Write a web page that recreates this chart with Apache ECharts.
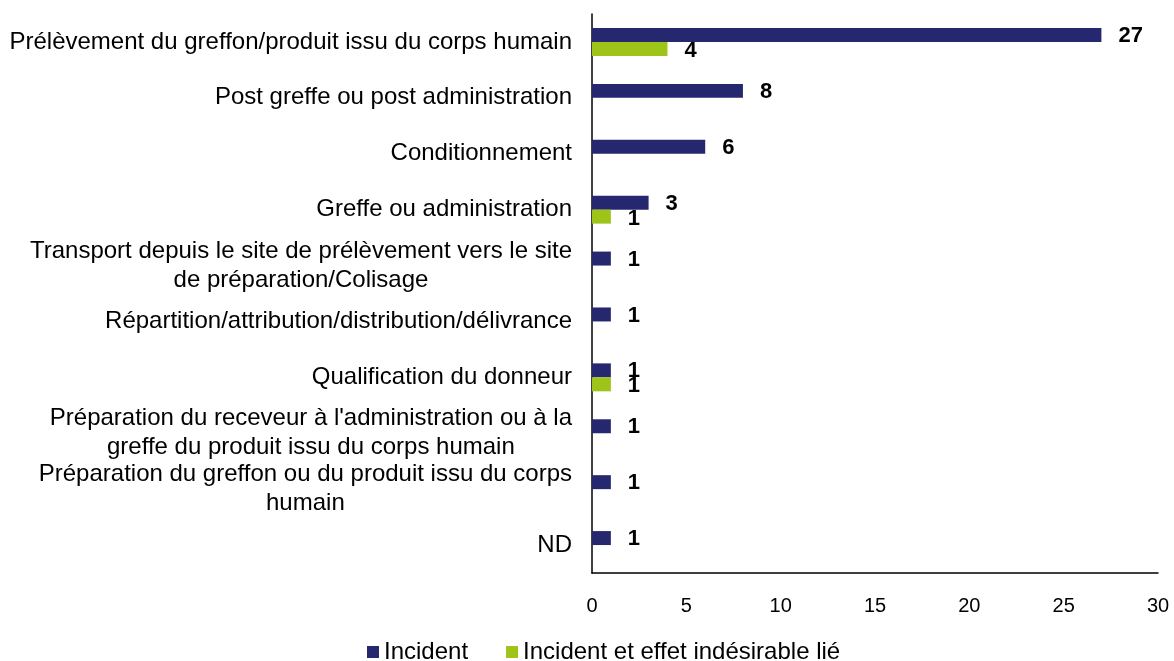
<!DOCTYPE html>
<html>
<head>
<meta charset="utf-8">
<script src="https://cdn.jsdelivr.net/npm/echarts@6/dist/echarts.min.js"></script>
<style>
  html, body { margin: 0; padding: 0; background: #fff; }
  #myChart { width: 1174px; height: 661px; }
</style>
</head>
<body>
<div id="myChart"></div>
<script>
// données
var categories = [
  "Prélèvement du greffon/produit issu du corps humain",
  "Post greffe ou post administration",
  "Conditionnement",
  "Greffe ou administration",
  "Transport depuis le site de prélèvement vers le site\nde préparation/Colisage",
  "Répartition/attribution/distribution/délivrance",
  "Qualification du donneur",
  "Préparation du receveur à l'administration ou à la\ngreffe du produit issu du corps humain",
  "Préparation du greffon ou du produit issu du corps\nhumain",
  "ND"
];
var incident = [27, 8, 6, 3, 1, 1, 1, 1, 1, 1];
var incidentLie = [4, null, null, 1, null, null, 1, null, null, null];
var xTicks = [0, 5, 10, 15, 20, 25, 30];

var font = "Liberation Sans, Arial, sans-serif";
var chart = echarts.init(document.getElementById("myChart"));

chart.setOption({
  animation: false,
  textStyle: { fontFamily: font },
  grid: { left: 592, right: 16, top: 14, bottom: 88 },
  legend: {
    bottom: -8,
    left: 362,
    itemWidth: 12,
    itemHeight: 12,
    itemGap: 38,
    icon: "rect",
    textStyle: { fontSize: 24, color: "#000", fontFamily: font },
    data: ["Incident", "Incident et effet indésirable lié"]
  },
  xAxis: {
    type: "value",
    min: xTicks[0],
    max: xTicks[xTicks.length - 1],
    interval: 5,
    splitLine: { show: false },
    axisLine: { show: true, lineStyle: { color: "#000", width: 1.5 } },
    axisTick: { show: false },
    axisLabel: { fontSize: 20, color: "#000", margin: 23, fontFamily: font }
  },
  yAxis: {
    type: "category",
    inverse: true,
    data: categories,
    axisLine: { show: true, lineStyle: { color: "#000", width: 1.5 } },
    axisTick: { show: false },
    axisLabel: {
      margin: 20,
      align: "right",
      fontSize: 24,
      color: "#000",
      fontFamily: font,
      lineHeight: 29,
      formatter: function (v) {
        return v.split("\n").map(function (l) { return "{c|" + l + "}"; }).join("\n");
      },
      rich: {
        c: { align: "center", fontSize: 24, lineHeight: 29, color: "#000", fontFamily: font }
      }
    }
  },
  series: [
    {
      name: "Incident",
      type: "bar",
      data: incident,
      barGap: "0%",
      barCategoryGap: "50%",
      itemStyle: { color: "#26286f" },
      label: {
        show: true,
        position: "right",
        distance: 17,
        offset: [0, 1],
        fontSize: 22,
        fontWeight: "bold",
        color: "#000",
        fontFamily: font
      }
    },
    {
      name: "Incident et effet indésirable lié",
      type: "bar",
      data: incidentLie,
      barGap: "0%",
      barCategoryGap: "50%",
      itemStyle: { color: "#9ec41a" },
      label: {
        show: true,
        position: "right",
        distance: 17,
        offset: [0, 2],
        fontSize: 22,
        fontWeight: "bold",
        color: "#000",
        fontFamily: font
      }
    }
  ]
});
</script>
</body>
</html>
